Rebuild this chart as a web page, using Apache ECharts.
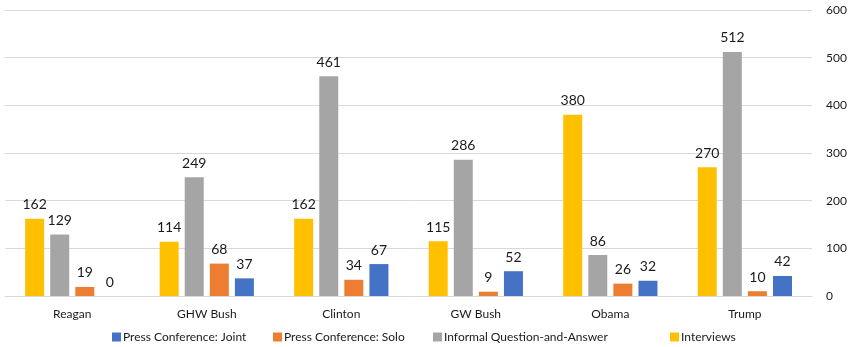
<!DOCTYPE html>
<html>
<head>
<meta charset="utf-8">
<script src="https://cdn.jsdelivr.net/npm/echarts@6/dist/echarts.min.js"></script>
<style>
  html, body { margin: 0; padding: 0; background: #fff; }
  #chart { width: 850px; height: 347px; }
</style>
</head>
<body>
<div id="chart"></div>
<script>
// Presidential press interactions by administration
const presidents = ['Reagan', 'GHW Bush', 'Clinton', 'GW Bush', 'Obama', 'Trump'];
const interviews = [162, 114, 162, 115, 380, 270];
const informalQA = [129, 249, 461, 286, 86, 512];
const pressSolo = [19, 68, 34, 9, 26, 10];
const pressJoint = [0, 37, 67, 52, 32, 42];
const yTicks = [0, 100, 200, 300, 400, 500, 600];
const legendNames = ['Press Conference: Joint', 'Press Conference: Solo', 'Informal Question-and-Answer', 'Interviews'];

const FONT = 'Lato, "Open Sans", sans-serif';
const TEXT = '#1a1a1a';

function barSeries(name, data, color) {
  return {
    name: name,
    type: 'bar',
    data: data,
    barWidth: 19,
    barGap: '32%',
    itemStyle: { color: color },
    label: {
      show: true,
      position: 'top',
      distance: 7,
      color: TEXT,
      fontFamily: FONT,
      fontSize: 14
    }
  };
}

// one legend block per entry so each key sits at its own spot
const legendLefts = [112, 273, 433, 670];
const legends = legendNames.map((name, i) => ({
  top: 331,
  left: legendLefts[i],
  padding: 0,
  itemWidth: 9,
  itemHeight: 9,
  itemGap: 0,
  icon: 'rect',
  data: [name],
  textStyle: { fontFamily: FONT, fontSize: 12, color: TEXT, padding: [0, 0, 0, -3] }
}));

const chart = echarts.init(document.getElementById('chart'), null, { renderer: 'canvas' });
chart.setOption({
  animation: false,
  backgroundColor: '#ffffff',
  grid: { left: 5, right: 32, top: 10, bottom: 51, containLabel: false },
  legend: legends,
  xAxis: {
    type: 'category',
    data: presidents,
    axisTick: { show: false },
    axisLine: { show: true, lineStyle: { color: '#d9d9d9', width: 1 } },
    axisLabel: { fontFamily: FONT, fontSize: 12, color: TEXT, margin: 12 }
  },
  yAxis: {
    type: 'value',
    position: 'right',
    min: yTicks[0],
    max: yTicks[yTicks.length - 1],
    interval: 100,
    axisLine: { show: false },
    axisTick: { show: false },
    axisLabel: { fontFamily: FONT, fontSize: 12, color: TEXT, margin: 14 },
    splitLine: { lineStyle: { color: '#d9d9d9', width: 1 } }
  },
  series: [
    barSeries('Interviews', interviews, '#FFC000'),
    barSeries('Informal Question-and-Answer', informalQA, '#A5A5A5'),
    barSeries('Press Conference: Solo', pressSolo, '#ED7D31'),
    barSeries('Press Conference: Joint', pressJoint, '#4472C4')
  ]
});
</script>
</body>
</html>
